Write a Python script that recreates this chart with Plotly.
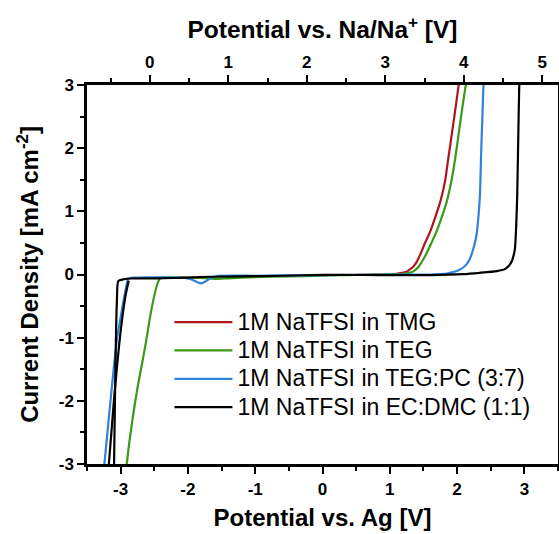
import plotly.graph_objects as go

# ---------------- data ----------------
series_names = [
    "1M NaTFSI in TMG",
    "1M NaTFSI in TEG",
    "1M NaTFSI in TEG:PC (3:7)",
    "1M NaTFSI in EC:DMC (1:1)",
]
series_colors = ["#b0151c", "#3a9a16", "#2d84d8", "#000000"]

# Potential vs. Ag [V] and current density [mA cm-2]
tmg_x = [0.50, 0.80, 1.00, 1.10, 1.18, 1.25, 1.30, 1.35, 1.40, 1.45, 1.52, 1.60, 1.67, 1.75, 1.82, 1.87, 1.92, 1.97, 2.02, 2.04]
tmg_y = [-0.005, -0.002, 0.003, 0.010, 0.025, 0.045, 0.080, 0.125, 0.20, 0.31, 0.49, 0.68, 0.89, 1.15, 1.47, 1.84, 2.21, 2.58, 2.97, 3.10]

teg_x = [-2.92, -2.87, -2.76, -2.64, -2.54, -2.46, -2.415, -2.30, -2.00, -1.70, -1.57, -1.40, -1.00, -0.50, 0.00, 0.25, 0.50, 0.80, 1.00, 1.15, 1.25, 1.33, 1.37, 1.42, 1.47, 1.53, 1.61, 1.69, 1.76, 1.84, 1.91, 1.97, 2.02, 2.07, 2.13, 2.15]
teg_y = [-3.10, -2.65, -1.86, -1.17, -0.54, -0.17, -0.06, -0.05, -0.05, -0.06, -0.07, -0.06, -0.04, -0.03, -0.02, -0.01, -0.008, -0.003, 0.000, 0.006, 0.018, 0.040, 0.065, 0.11, 0.19, 0.30, 0.48, 0.67, 0.87, 1.13, 1.45, 1.82, 2.20, 2.58, 3.00, 3.10]

tegpc_x = [-3.26, -3.16, -3.06, -2.96, -2.92, -2.886, -2.80, -2.40, -2.10, -1.97, -1.88, -1.80, -1.74, -1.67, -1.57, -1.00, -0.50, 0.00, 0.50, 1.00, 1.60, 1.85, 2.04, 2.14, 2.19, 2.24, 2.29, 2.32, 2.34, 2.36, 2.38, 2.39, 2.40]
tegpc_y = [-3.20, -2.10, -1.07, -0.43, -0.20, -0.07, -0.05, -0.045, -0.05, -0.07, -0.11, -0.142, -0.11, -0.063, -0.025, -0.02, -0.015, -0.01, -0.006, -0.003, 0.000, 0.016, 0.074, 0.16, 0.25, 0.40, 0.63, 0.95, 1.26, 2.00, 2.60, 2.94, 3.10]

ecdmc_x = [-3.19, -3.10, -3.00, -2.93, -2.88, None, -3.10, -3.085, -3.07, -3.055, -3.035, -2.95, -2.86, -2.46, -2.00, -1.67, -1.20, -0.60, 0.00, 0.60, 1.10, 1.60, 2.09, 2.34, 2.59, 2.71, 2.77, 2.81, 2.84, 2.86, 2.88, 2.894, 2.91, 2.923, 2.93]
ecdmc_y = [-3.20, -2.00, -0.90, -0.35, -0.10, None, -3.20, -2.00, -1.00, -0.40, -0.104, -0.075, -0.063, -0.060, -0.050, -0.036, -0.030, -0.020, -0.005, -0.008, -0.010, -0.010, 0.006, 0.027, 0.054, 0.085, 0.14, 0.20, 0.30, 0.41, 0.80, 1.26, 2.20, 2.94, 3.10]

xs = [tmg_x, teg_x, tegpc_x, ecdmc_x]
ys = [tmg_y, teg_y, tegpc_y, ecdmc_y]

bottom_ticks = [-3, -2, -1, 0, 1, 2, 3]
top_ticks = [0, 1, 2, 3, 4, 5]          # Potential vs. Na/Na+ [V]
y_ticks = [-3, -2, -1, 0, 1, 2, 3]

# ---------------- figure ----------------
FONT = "Liberation Sans, Arial, sans-serif"
fig = go.Figure()
for name, color, x, y in zip(series_names, series_colors, xs, ys):
    fig.add_trace(go.Scatter(
        x=x, y=y, name="<span style='font-size:23px'>" + name + "</span>", mode="lines",
        line=dict(color=color, width=2.2, shape="spline", smoothing=0.6),
        connectgaps=False,
    ))

# empty trace that activates the top (Na/Na+) axis
fig.add_trace(go.Scatter(
    x=top_ticks, y=[None] * len(top_ticks), xaxis="x2", yaxis="y",
    mode="lines", showlegend=False, hoverinfo="skip",
))

axis_common = dict(
    showline=True, linecolor="black", linewidth=2.5,
    ticks="outside", ticklen=7, tickwidth=2, tickcolor="black",
    showgrid=False, zeroline=False, automargin=False,
    tickfont=dict(family=FONT, size=17, color="black", weight="bold"),
    minor=dict(ticks="outside", ticklen=4, tickwidth=2, tickcolor="black", dtick=0.5, showgrid=False),
)

fig.update_layout(
    width=559, height=534,
    margin=dict(l=87, r=1, t=85, b=70),
    paper_bgcolor="white", plot_bgcolor="white",
    font=dict(family=FONT, color="black"),
    xaxis=dict(
        range=[-3.5, 3.5], tickvals=bottom_ticks, ticktext=[str(v) for v in bottom_ticks],
        ticklabelstandoff=1,
        title=dict(text="Potential vs. Ag [V]", font=dict(family=FONT, size=24, weight="bold"), standoff=12),
        **axis_common,
    ),
    xaxis2=dict(
        range=[-0.8, 5.2], overlaying="x", side="top", anchor="y",
        tickvals=top_ticks, ticktext=[str(v) for v in top_ticks],
        title=dict(text="Potential vs. Na/Na<sup>+</sup> [V]", font=dict(family=FONT, size=24.5, weight="bold"), standoff=8),
        **axis_common,
    ),
    yaxis=dict(
        range=[-3, 3], tickvals=y_ticks, ticktext=[str(v) for v in y_ticks],
        mirror=True,
        title=dict(text="Current Density [mA cm<sup>-2</sup>]", font=dict(family=FONT, size=24, weight="bold"), standoff=14),
        **axis_common,
    ),
    legend=dict(
        x=0.175, y=0.425, xanchor="left", yanchor="top",
        bgcolor="rgba(0,0,0,0)", borderwidth=0,
        font=dict(family=FONT, size=19.5, color="black"),
        itemwidth=58, tracegroupgap=0,
    ),
    showlegend=True,
)

fig.write_html(
    "out.html",
    config={"displayModeBar": False},
    post_script="document.body.style.margin='0';document.body.style.overflow='hidden';",
)
